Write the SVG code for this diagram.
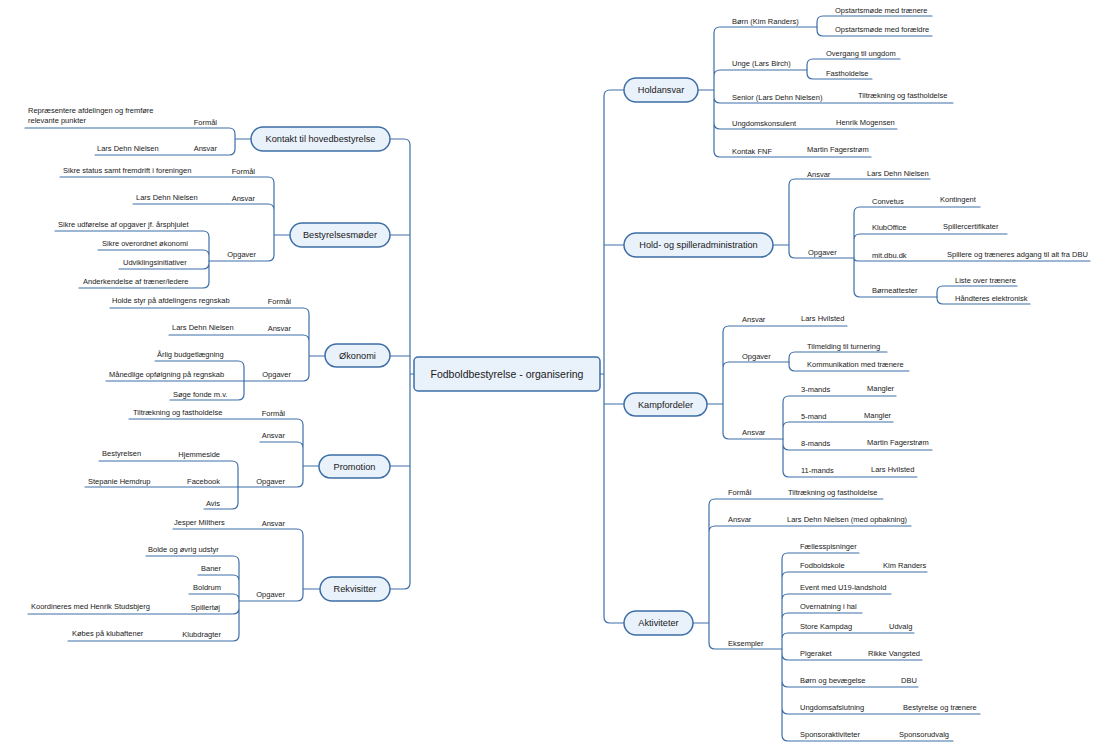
<svg xmlns="http://www.w3.org/2000/svg" width="1101" height="747" viewBox="0 0 1101 747">
<style>
.ln{fill:none;stroke:#3d6ea7;stroke-width:1.2;stroke-linecap:round;stroke-linejoin:round}
.nd{fill:#e9f1fa;stroke:#3d6ea7;stroke-width:1.5}
.tt{font-family:"Liberation Sans",Arial,sans-serif;font-size:9.2px;fill:#1a1a1a;text-anchor:middle}
.tc{font-family:"Liberation Sans",Arial,sans-serif;font-size:10.5px;fill:#1a1a1a;text-anchor:middle}
.t{font-family:"Liberation Sans",Arial,sans-serif;font-size:7.5px;fill:#1a1a1a}
.e{text-anchor:end}
</style>
<rect width="1101" height="747" fill="#ffffff"/>
<g id="connectors" class="ln">
<path d="M390 139 H404 Q410 139 410 145 V583 Q410 589 404 589 H390 M410 235 H390 M410 356 H390 M410 466 H390 M410 374 H414"/>
<path d="M624 90 H610 Q604 90 604 96 V617 Q604 623 610 623 H624 M604 245 H624 M604 404 H624 M600 374 H604"/>
<path d="M251 139 H235 M235 139 V134 Q235 128 229 128 H25 M235 139 V149 Q235 155 229 155 H95"/>
<path d="M290 235 H274 M274 235 V183 Q274 177 268 177 H60 M274 235 V210 Q274 204 268 204 H133 M274 235 V255 Q274 261 268 261 H209"/>
<path d="M209 261 V237 Q209 231 203 231 H55 M209 261 V256 Q209 250 203 250 H98 M209 261 V263 Q209 269 203 269 H119 M209 261 V282 Q209 288 203 288 H79"/>
<path d="M325 356 H309 M309 356 V314 Q309 308 303 308 H110 M309 356 V341 Q309 335 303 335 H169 M309 356 V375 Q309 381 303 381 H244"/>
<path d="M244 381 V367 Q244 361 238 361 H155 M244 381 H106 M244 381 V394 Q244 400 238 400 H170"/>
<path d="M319 466 H303 M303 466 V425 Q303 419 297 419 H129 M303 466 V448 Q303 442 297 442 H260 M303 466 V481 Q303 487 297 487 H238"/>
<path d="M238 487 V467 Q238 461 232 461 H99 M238 487 H85 M238 487 V503 Q238 509 232 509 H204"/>
<path d="M320 589 H303 M303 589 V535 Q303 529 297 529 H173 M303 589 V595 Q303 601 297 601 H239"/>
<path d="M239 601 V562 Q239 556 233 556 H146 M239 601 V581 Q239 575 233 575 H198 M239 601 V600 Q239 594 233 594 H189 M239 601 V608 Q239 614 233 614 H28 M239 601 V635 Q239 641 233 641 H68"/>
<path d="M698 90 H714 M714 90 V33 Q714 27 720 27 H817 M714 90 V76 Q714 70 720 70 H807 M714 90 V97 Q714 103 720 103 H953 M714 90 V123 Q714 129 720 129 H897 M714 90 V151 Q714 157 720 157 H871"/>
<path d="M817 27 V22 Q817 16 823 16 H932 M817 27 V30 Q817 36 823 36 H932"/>
<path d="M807 70 V65 Q807 59 813 59 H900 M807 70 V73 Q807 79 813 79 H872"/>
<path d="M773 245 H789 M789 245 V185 Q789 179 795 179 H930 M789 245 V252 Q789 258 795 258 H854"/>
<path d="M854 258 V213 Q854 207 860 207 H980 M854 258 V240 Q854 234 860 234 H1007 M854 258 Q854 261 858 261 H1090 M854 258 V291 Q854 297 860 297 H937"/>
<path d="M937 297 V292 Q937 286 943 286 H1017 M937 297 V298 Q937 304 943 304 H1030"/>
<path d="M707 404 H723 M723 404 V332 Q723 326 729 326 H847 M723 404 V368 Q723 362 729 362 H789 M723 404 V433 Q723 439 729 439 H783"/>
<path d="M789 362 V358 Q789 352 795 352 H887 M789 362 V365 Q789 371 795 371 H909"/>
<path d="M783 439 V402 Q783 396 789 396 H896 M783 439 V428 Q783 422 789 422 H893 M783 439 V444 Q783 450 789 450 H932 M783 439 V471 Q783 477 789 477 H917"/>
<path d="M693 623 H709 M709 623 V505 Q709 499 715 499 H883 M709 623 V532 Q709 526 715 526 H911 M709 623 V643 Q709 649 715 649 H782"/>
<path d="M782 649 V559 Q782 553 788 553 H859 M782 649 V578 Q782 572 788 572 H927 M782 649 V600 Q782 594 788 594 H891 M782 649 V619 Q782 613 788 613 H862 M782 649 V639 Q782 633 788 633 H914 M782 649 V654 Q782 660 788 660 H922 M782 649 V681 Q782 687 788 687 H918 M782 649 V708 Q782 714 788 714 H980 M782 649 V735 Q782 741 788 741 H953"/>
</g>

<g id="n-center">
<rect class="nd" x="414" y="357" width="186" height="34" rx="4"/>
<text class="tc" x="507" y="377.5">Fodboldbestyrelse - organisering</text>
</g>

<g id="n-kontakt">
<rect class="nd" x="251" y="127" width="139" height="24" rx="12"/>
<text class="tt" x="320.5" y="142.3">Kontakt til hovedbestyrelse</text>
</g>
<g id="l-kontakt">
<text class="t e" x="217" y="124.5">Formål</text>
<text class="t" x="28" y="113.3">Repræsentere afdelingen og fremføre</text>
<text class="t" x="28" y="123">relevante punkter</text>
<text class="t e" x="217" y="151">Ansvar</text>
<text class="t" x="97" y="150.5">Lars Dehn Nielsen</text>
</g>

<g id="n-bestyrelsesmoeder">
<rect class="nd" x="290" y="223" width="100" height="24" rx="12"/>
<text class="tt" x="340" y="238.3">Bestyrelsesmøder</text>
</g>
<g id="l-bestyrelsesmoeder">
<text class="t e" x="255" y="173.7">Formål</text>
<text class="t" x="63" y="172.7">Sikre status samt fremdrift i foreningen</text>
<text class="t e" x="255" y="201">Ansvar</text>
<text class="t" x="136" y="200">Lars Dehn Nielsen</text>
<text class="t e" x="256" y="256.5">Opgaver</text>
<text class="t" x="58" y="227">Sikre udførelse af opgaver jf. årsphjulet</text>
<text class="t" x="102" y="246">Sikre overordnet økonomi</text>
<text class="t" x="123" y="264.5">Udviklingsinitiativer</text>
<text class="t" x="83" y="284">Anderkendelse af træner/ledere</text>
</g>

<g id="n-oekonomi">
<rect class="nd" x="325" y="344" width="65" height="23" rx="11.5"/>
<text class="tt" x="357.5" y="359">Økonomi</text>
</g>
<g id="l-oekonomi">
<text class="t e" x="291" y="303.7">Formål</text>
<text class="t" x="112" y="303">Holde styr på afdelingens regnskab</text>
<text class="t e" x="291" y="331">Ansvar</text>
<text class="t" x="172" y="330">Lars Dehn Nielsen</text>
<text class="t e" x="291" y="377">Opgaver</text>
<text class="t" x="157" y="357">Årlig budgetlægning</text>
<text class="t" x="109" y="377">Månedlige opfølgning på regnskab</text>
<text class="t" x="173" y="396.5">Søge fonde m.v.</text>
</g>

<g id="n-promotion">
<rect class="nd" x="319" y="455" width="71" height="23" rx="11.5"/>
<text class="tt" x="354.5" y="470">Promotion</text>
</g>
<g id="l-promotion">
<text class="t e" x="285" y="415.5">Formål</text>
<text class="t" x="133" y="415">Tiltrækning og fastholdelse</text>
<text class="t e" x="285" y="437.5">Ansvar</text>
<text class="t e" x="285" y="483.5">Opgaver</text>
<text class="t e" x="220" y="457">Hjemmeside</text>
<text class="t" x="102" y="456">Bestyrelsen</text>
<text class="t e" x="220" y="484">Facebook</text>
<text class="t" x="88" y="483.5">Stepanie Hemdrup</text>
<text class="t e" x="220" y="506">Avis</text>
</g>

<g id="n-rekvisitter">
<rect class="nd" x="320" y="577" width="70" height="24" rx="12"/>
<text class="tt" x="355" y="592.3">Rekvisitter</text>
</g>
<g id="l-rekvisitter">
<text class="t e" x="285" y="526">Ansvar</text>
<text class="t" x="174" y="525">Jesper Milthers</text>
<text class="t e" x="285" y="597">Opgaver</text>
<text class="t" x="148" y="552">Bolde og øvrig udstyr</text>
<text class="t e" x="221" y="571">Baner</text>
<text class="t e" x="221" y="590">Boldrum</text>
<text class="t e" x="220" y="610">Spillertøj</text>
<text class="t" x="31" y="609">Koordineres med Henrik Studsbjerg</text>
<text class="t e" x="221" y="637">Klubdragter</text>
<text class="t" x="72" y="636">Købes på klubaftener</text>
</g>

<g id="n-holdansvar">
<rect class="nd" x="624" y="78" width="74" height="24" rx="12"/>
<text class="tt" x="661" y="93.3">Holdansvar</text>
</g>
<g id="l-holdansvar">
<text class="t" x="732" y="23.5">Børn (Kim Randers)</text>
<text class="t" x="835" y="13.3">Opstartsmøde med trænere</text>
<text class="t" x="835" y="32">Opstartsmøde med forældre</text>
<text class="t" x="732" y="66">Unge (Lars Birch)</text>
<text class="t" x="826" y="56">Overgang til ungdom</text>
<text class="t" x="826" y="75.5">Fastholdelse</text>
<text class="t" x="732" y="100">Senior (Lars Dehn Nielsen)</text>
<text class="t" x="858" y="97.7">Tiltrækning og fastholdelse</text>
<text class="t" x="732" y="126">Ungdomskonsulent</text>
<text class="t" x="836" y="125.4">Henrik Mogensen</text>
<text class="t" x="732" y="153.5">Kontak FNF</text>
<text class="t" x="807" y="152">Martin Fagerstrøm</text>
</g>

<g id="n-holdadmin">
<rect class="nd" x="624" y="233" width="149" height="24" rx="12"/>
<text class="tt" x="698.5" y="248.3">Hold- og spilleradministration</text>
</g>
<g id="l-holdadmin">
<text class="t" x="807" y="176.7">Ansvar</text>
<text class="t" x="867" y="175.5">Lars Dehn Nielsen</text>
<text class="t" x="808" y="254.5">Opgaver</text>
<text class="t" x="872" y="203.5">Convetus</text>
<text class="t" x="940" y="202">Kontingent</text>
<text class="t" x="872" y="229.5">KlubOffice</text>
<text class="t" x="943" y="229">Spillercertifikater</text>
<text class="t" x="872" y="258">mit.dbu.dk</text>
<text class="t" x="947" y="257">Spillere og træneres adgang til alt fra DBU</text>
<text class="t" x="872" y="293">Børneattester</text>
<text class="t" x="955" y="283">Liste over trænere</text>
<text class="t" x="955" y="301">Håndteres elektronisk</text>
</g>

<g id="n-kampfordeler">
<rect class="nd" x="624" y="393" width="83" height="23" rx="11.5"/>
<text class="tt" x="665.5" y="408">Kampfordeler</text>
</g>
<g id="l-kampfordeler">
<text class="t" x="742" y="322">Ansvar</text>
<text class="t" x="801" y="321">Lars Hvilsted</text>
<text class="t" x="742" y="358.5">Opgaver</text>
<text class="t" x="807" y="348.5">Tilmelding til turnering</text>
<text class="t" x="807" y="367">Kommunikation med trænere</text>
<text class="t" x="742" y="435">Ansvar</text>
<text class="t" x="801" y="392">3-mands</text>
<text class="t" x="867" y="391">Mangler</text>
<text class="t" x="801" y="418.7">5-mand</text>
<text class="t" x="864" y="417.7">Mangler</text>
<text class="t" x="801" y="446">8-mands</text>
<text class="t" x="867" y="445">Martin Fagerstrøm</text>
<text class="t" x="801" y="472.7">11-mands</text>
<text class="t" x="871" y="471.7">Lars Hvilsted</text>
</g>

<g id="n-aktiviteter">
<rect class="nd" x="624" y="611" width="69" height="24" rx="12"/>
<text class="tt" x="658.5" y="626.3">Aktiviteter</text>
</g>
<g id="l-aktiviteter">
<text class="t" x="728" y="495">Formål</text>
<text class="t" x="788" y="495">Tiltrækning og fastholdelse</text>
<text class="t" x="728" y="522">Ansvar</text>
<text class="t" x="787" y="522">Lars Dehn Nielsen (med opbakning)</text>
<text class="t" x="728" y="645.5">Eksempler</text>
<text class="t" x="800" y="548.7">Fællesspisninger</text>
<text class="t" x="800" y="567.7">Fodboldskole</text>
<text class="t" x="883" y="567.7">Kim Randers</text>
<text class="t" x="800" y="590">Event med U19-landshold</text>
<text class="t" x="800" y="608.7">Overnatning i hal</text>
<text class="t" x="800" y="629.4">Store Kampdag</text>
<text class="t" x="889" y="628.7">Udvalg</text>
<text class="t" x="800" y="656">Pigeraket</text>
<text class="t" x="868" y="656">Rikke Vangsted</text>
<text class="t" x="800" y="683.4">Børn og bevægelse</text>
<text class="t" x="901" y="682.7">DBU</text>
<text class="t" x="800" y="710.4">Ungdomsafslutning</text>
<text class="t" x="903" y="709.7">Bestyrelse og trænere</text>
<text class="t" x="800" y="737">Sponsoraktiviteter</text>
<text class="t" x="899" y="736.7">Sponsorudvalg</text>
</g>
</svg>
